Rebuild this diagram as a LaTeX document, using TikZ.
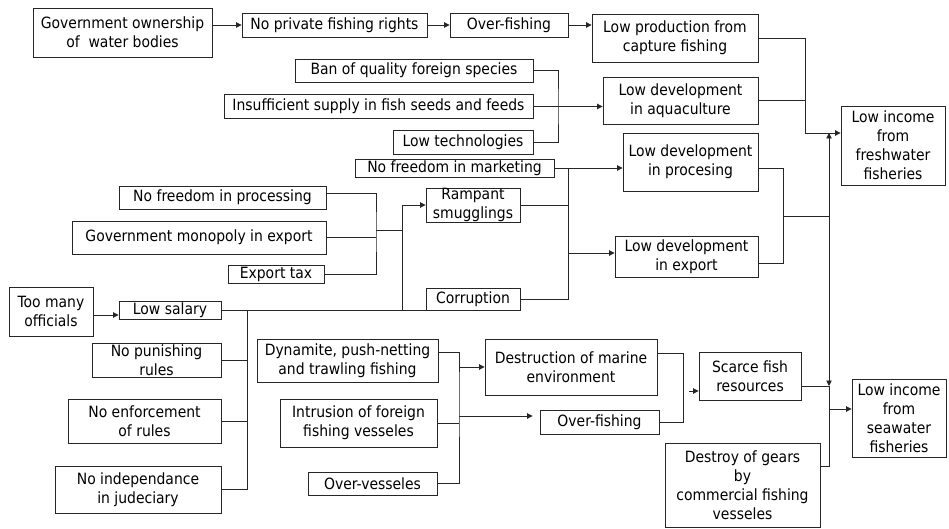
\documentclass[tikz,border=0pt]{standalone}
\usepackage{fontspec}
\setmainfont{DejaVu Sans Condensed}
\usetikzlibrary{arrows.meta}
\tikzstyle{cause}=[draw=black!85,line width=0.9pt,align=center,inner sep=0pt,font=\fontsize{15.5}{19}\selectfont]

\begin{document}
\begin{tikzpicture}[x=1pt,y=-1pt]
    \tikzstyle{arr}=[-{Triangle[length=5.5pt,width=5.5pt]}]
    \tikzstyle{link}=[draw=black!85,line width=0.9pt]
    \useasboundingbox (0,0) rectangle (949,529);

    % freshwater side
    \node[cause,minimum width=179,minimum height=49] (govown) at (122.5,32.5) {Government ownership\\of\ \ water bodies};
    \node[cause,minimum width=185,minimum height=24] (noright) at (334.5,25) {No private fishing rights};
    \node[cause,minimum width=118,minimum height=24] (overfish) at (509,25) {Over-fishing};
    \node[cause,minimum width=166,minimum height=48] (lowcap) at (675,38) {Low production from\\capture fishing};
    \node[cause,minimum width=238,minimum height=23] (banspec) at (414,70.5) {Ban of quality foreign species};
    \node[cause,minimum width=309,minimum height=24] (seedfeed) at (378.5,106.5) {Insufficient supply in fish seeds and feeds};
    \node[cause,minimum width=140,minimum height=24] (lowtech) at (463,142) {Low technologies};
    \node[cause,minimum width=155,minimum height=47] (lowaqua) at (680.5,100.5) {Low development\\in aquaculture};
    \node[cause,minimum width=104,minimum height=79] (freshinc) at (893,145.5) {Low income\\from\\freshwater\\fisheries};

    % trade and officials
    \node[cause,minimum width=199,minimum height=18] (nomarket) at (454.5,168) {No freedom in marketing};
    \node[cause,minimum width=135,minimum height=58] (lowproc) at (690.5,162) {Low development\\in procesing};
    \node[cause,minimum width=94,minimum height=34] (smuggle) at (473,205) {Rampant\\smugglings};
    \node[cause,minimum width=94,minimum height=22] (corrupt) at (473,299) {Corruption};
    \node[cause,minimum width=143,minimum height=41] (export) at (686.5,256.5) {Low development\\in export};
    \node[cause,minimum width=207,minimum height=23] (noproc) at (222.5,197.5) {No freedom in processing};
    \node[cause,minimum width=254,minimum height=33] (monopoly) at (199,237.5) {Government monopoly in export};
    \node[cause,minimum width=96,minimum height=18] (extax) at (276,274) {Export tax};
    \node[cause,minimum width=84,minimum height=49] (officials) at (51,311.5) {Too many\\officials};
    \node[cause,minimum width=102,minimum height=18] (salary) at (170,310) {Low salary};
    \node[cause,minimum width=129,minimum height=34] (punish) at (156.5,360) {No punishing\\rules};
    \node[cause,minimum width=153,minimum height=44] (enforce) at (144.5,421) {No enforcement\\of rules};
    \node[cause,minimum width=166,minimum height=47] (judic) at (138,489.5) {No independance\\in judeciary};

    % seawater side
    \node[cause,minimum width=181,minimum height=43] (dynamite) at (347.5,360.5) {Dynamite, push-netting\\and trawling fishing};
    \node[cause,minimum width=157,minimum height=48] (intrusion) at (358.5,423) {Intrusion of foreign\\fishing vesseles};
    \node[cause,minimum width=129,minimum height=23] (overves) at (372.5,483.5) {Over-vesseles};
    \node[cause,minimum width=172,minimum height=56] (marine) at (571,367) {Destruction of marine\\environment};
    \node[cause,minimum width=119,minimum height=24] (overfishb) at (599.5,422) {Over-fishing};
    \node[cause,minimum width=102,minimum height=48] (scarce) at (750,376) {Scarce fish\\resources};
    \node[cause,minimum width=155,minimum height=84] (gears) at (742.5,485) {Destroy of gears\\by\\commercial fishing\\vesseles};
    \node[cause,minimum width=94,minimum height=78] (seainc) at (899,418) {Low income\\from\\seawater\\fisheries};

    % junctions
    \coordinate (jaqua) at (558,106.5);
    \coordinate (jfresh) at (805,133);
    \coordinate (jtrade) at (783,216);
    \coordinate (jmain) at (829,216);
    \coordinate (jsea) at (829,409);
    \coordinate (jmkt) at (568,253);
    \coordinate (jproc) at (376,230);
    \coordinate (jsmug) at (402,230);
    \coordinate (jcorr) at (402,310);
    \coordinate (jsal) at (247,310);
    \coordinate (jfish) at (459,391);
    \coordinate (jmar) at (683,391);

    \draw[link,arr] (govown.east |- noright.west) -- (noright.west);
    \draw[link,arr] (noright) -- (overfish);
    \draw[link,arr] (overfish.east) -- (overfish.east -| lowcap.west);

    \draw[link] (banspec.east) -| (jaqua) |- (lowtech.east);
    \draw[link] (seedfeed.east) -- (jaqua);
    \draw[link,arr] (jaqua) -- (jaqua -| lowaqua.west);

    \draw[link] (lowcap.east) -| (jfresh);
    \draw[link] (lowaqua.east) -- (lowaqua.east -| jfresh);
    \draw[link,arr] (jfresh) -- (jfresh -| freshinc.west);

    \draw[link,arr] (nomarket.east) -- (nomarket.east -| lowproc.west);
    \draw[link] (nomarket.east -| jmkt) |- (corrupt.east);
    \draw[link] (smuggle.east) -- (smuggle.east -| jmkt);
    \draw[link,arr] (jmkt) -- (jmkt -| export.west);

    \draw[link] ([yshift=-6pt]lowproc.east) -| (jtrade) |- ([yshift=-6.5pt]export.east);
    \draw[link] (jtrade) -- (jmain);
    \draw[link,arr] (jmain) -- (jmain |- jfresh);
    \draw[link,arr] (jmain) -- ([yshift=-10pt]scarce.east -| jmain);

    \draw[link] ([yshift=4.5pt]noproc.east) -| (jproc) |- (extax.east);
    \draw[link] (monopoly.east) -- (monopoly.east -| jproc);
    \draw[link] (jproc) -- (jsmug);
    \draw[link,arr] (jcorr) |- (smuggle.west);
    \draw[link] (salary.east) -- (salary.east -| corrupt.west);

    \draw[link,arr] ([yshift=-3.5pt]officials.east) -- ([yshift=-3.5pt]officials.east -| salary.west);
    \draw[link] (jsal) |- (judic.east);
    \draw[link] (punish.east) -- (punish.east -| jsal);
    \draw[link] (enforce.east) -- (enforce.east -| jsal);

    \draw[link] ([yshift=8.5pt]dynamite.east) -| (jfish) |- (overves.east);
    \draw[link] (intrusion.east) -- (intrusion.east -| jfish);
    \draw[link,arr] (marine.west -| jfish) -- (marine.west);
    \draw[link,arr,shorten >=7pt] ([yshift=6pt]overfishb.west -| jfish) -- ([yshift=6pt]overfishb.west);

    \draw[link] ([yshift=14pt]marine.east) -| (jmar) |- (overfishb.east);
    \draw[link,arr] ([xshift=6pt]jmar) -- (jmar -| scarce.west);

    \draw[link] ([yshift=-10pt]scarce.east) -| (jsea);
    \draw[link] ([yshift=19pt]gears.east) -| (jsea);
    \draw[link,arr] (jsea) -- (jsea -| seainc.west);
\end{tikzpicture}
\end{document}
